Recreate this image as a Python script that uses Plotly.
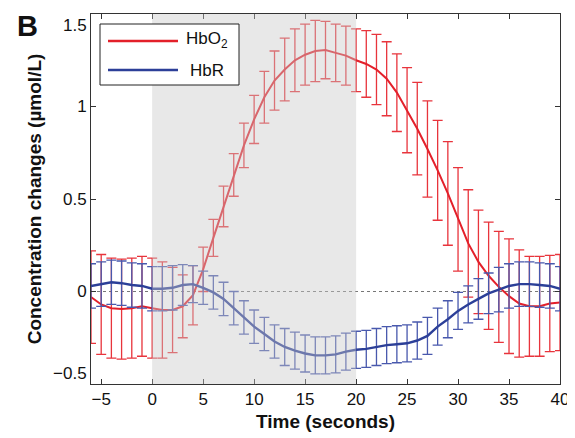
import plotly.graph_objects as go

time_s = list(range(-6, 41))

hbo2_mean = [-0.03, -0.07, -0.09, -0.095, -0.09, -0.08, -0.09, -0.10, -0.10, -0.08,
             -0.02, 0.12, 0.29, 0.46, 0.63, 0.79, 0.93, 1.05, 1.14, 1.20,
             1.25, 1.28, 1.30, 1.305, 1.29, 1.275, 1.25, 1.23, 1.20, 1.15,
             1.075, 0.98, 0.88, 0.77, 0.655, 0.53, 0.39, 0.26, 0.16, 0.085,
             0.025, -0.025, -0.065, -0.08, -0.08, -0.065, -0.06]
hbo2_err = [0.25, 0.27, 0.27, 0.27, 0.27, 0.27, 0.27, 0.26, 0.23, 0.17,
            0.16, 0.12, 0.10, 0.11, 0.115, 0.12, 0.13, 0.14, 0.16, 0.17,
            0.17, 0.165, 0.165, 0.155, 0.155, 0.16, 0.17, 0.18, 0.19, 0.20,
            0.21, 0.23, 0.25, 0.26, 0.27, 0.28, 0.28, 0.29, 0.28, 0.29,
            0.30, 0.31, 0.29, 0.27, 0.27, 0.26, 0.26]

hbr_mean = [0.03, 0.04, 0.05, 0.045, 0.035, 0.03, 0.015, 0.015, 0.02, 0.035,
            0.04, 0.02, -0.005, -0.04, -0.09, -0.14, -0.19, -0.23, -0.27, -0.30,
            -0.32, -0.335, -0.345, -0.345, -0.34, -0.325, -0.315, -0.31, -0.30, -0.29,
            -0.285, -0.28, -0.265, -0.24, -0.19, -0.15, -0.105, -0.07, -0.04, -0.01,
            0.01, 0.03, 0.04, 0.04, 0.035, 0.03, 0.015]
hbr_err = [0.12, 0.12, 0.12, 0.12, 0.12, 0.12, 0.12, 0.12, 0.12, 0.11,
           0.10, 0.09, 0.09, 0.09, 0.09, 0.09, 0.09, 0.09, 0.09, 0.10,
           0.10, 0.10, 0.10, 0.10, 0.10, 0.10, 0.10, 0.10, 0.10, 0.10,
           0.10, 0.10, 0.10, 0.10, 0.10, 0.10, 0.10, 0.10, 0.11, 0.11,
           0.12, 0.12, 0.12, 0.12, 0.12, 0.12, 0.12]

stim_window = [0, 20]
x_ticks = [-5, 0, 5, 10, 15, 20, 25, 30, 35, 40]
x_ticktext = ["\u22125", "0", "5", "10", "15", "20", "25", "30", "35", "40"]
y_ticks = [-0.5, 0, 0.5, 1, 1.5]
# end labels are nudged inward (as in the reference) with an extra blank line
y_ticktext = ["\u22120.5<br>\u00a0", "0", "0.5", "1", "\u00a0<br>1.5"]
series_names = ["HbO<sub>2</sub>", "HbR"]

RED = "#e3202a"
RED_BAR = "#e8343c"
BLUE = "#2c3f98"
BLUE_BAR = "#4858ad"
FONT = "Arial, Liberation Sans, sans-serif"

fig = go.Figure()
fig.add_trace(go.Scatter(
    x=time_s, y=hbo2_mean, mode="lines", name="HbO2", showlegend=False,
    line=dict(color=RED, width=2),
    error_y=dict(type="data", array=hbo2_err, color=RED_BAR, thickness=1.3, width=5),
))
fig.add_trace(go.Scatter(
    x=time_s, y=hbr_mean, mode="lines", name="HbR", showlegend=False,
    line=dict(color=BLUE, width=2.4),
    error_y=dict(type="data", array=hbr_err, color=BLUE_BAR, thickness=1.3, width=5),
))

# page offset (body margin) and plot area in window pixels
OFF = 8
W, H = 575 - OFF, 438 - OFF
L, T = 91 - OFF, 14 - OFF
R = W - (560 - OFF)
B = H - (384 - OFF)
PW, PH = W - L - R, H - T - B
def px(xw):
    return (xw - OFF - L) / PW
def py(yw):
    return 1 - (yw - OFF - T) / PH

shapes = [
    dict(type="line", xref="paper", yref="y", x0=0, x1=1, y0=0, y1=0,
         line=dict(color="#777777", width=1, dash="dot"), layer="below"),
    dict(type="rect", xref="x", yref="paper", x0=stim_window[0], x1=stim_window[1], y0=0, y1=1,
         fillcolor="rgba(200,200,200,0.42)", line=dict(width=0), layer="above"),
    # legend box
    dict(type="rect", xref="paper", yref="paper", x0=px(100), x1=px(239), y0=py(85), y1=py(24),
         fillcolor="white", line=dict(color="#222222", width=1), layer="above"),
    dict(type="line", xref="paper", yref="paper", x0=px(108), x1=px(178), y0=py(41), y1=py(41),
         line=dict(color=RED, width=2.5), layer="above"),
    dict(type="line", xref="paper", yref="paper", x0=px(108), x1=px(178), y0=py(70), y1=py(70),
         line=dict(color=BLUE, width=2.5), layer="above"),
]
annotations = [
    dict(text=series_names[0], xref="paper", yref="paper", x=px(207), y=py(40),
         xanchor="center", yanchor="middle", showarrow=False, font=dict(size=17, color="#111111")),
    dict(text=series_names[1], xref="paper", yref="paper", x=px(207), y=py(70),
         xanchor="center", yanchor="middle", showarrow=False, font=dict(size=17, color="#111111")),
    dict(text="<b>B</b>", xref="paper", yref="paper", x=px(27), y=py(8),
         xanchor="center", yanchor="top", showarrow=False, font=dict(size=29, color="#111111")),
]

fig.update_layout(
    width=W, height=H,
    margin=dict(l=L, r=R, t=T, b=B, autoexpand=False),
    paper_bgcolor="white", plot_bgcolor="white",
    font=dict(family=FONT, size=17, color="#111111"),
    shapes=shapes, annotations=annotations,
)
fig.update_xaxes(
    range=[-6, 40], tickvals=x_ticks, ticktext=x_ticktext, automargin=False,
    ticks="inside", ticklen=5, tickcolor="#333333", mirror="ticks",
    showline=True, linecolor="#333333", linewidth=1, showgrid=False, zeroline=False,
    ticklabeloverflow="allow",
    title=dict(text="<b>Time (seconds)</b>", font=dict(size=19), standoff=6),
)
fig.update_yaxes(
    range=[-0.5, 1.5], tickvals=y_ticks, ticktext=y_ticktext, automargin=False,
    ticks="inside", ticklen=5, tickcolor="#333333", mirror="ticks",
    showline=True, linecolor="#333333", linewidth=1, showgrid=False, zeroline=False,
    ticklabeloverflow="allow",
    title=dict(text="<b>Concentration changes (\u00b5mol/L)</b>", font=dict(size=19), standoff=6),
)

fig.write_html("out.html")
